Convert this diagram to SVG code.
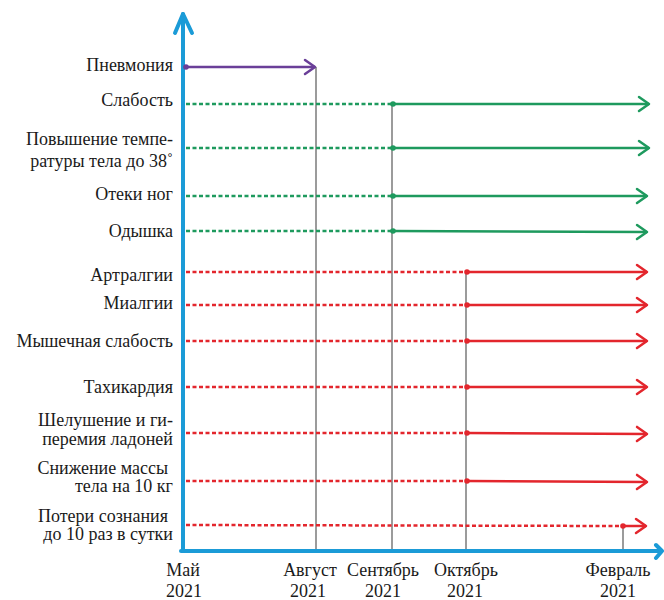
<svg xmlns="http://www.w3.org/2000/svg" width="664" height="600" viewBox="0 0 664 600">
<style>
text{font-family:'Liberation Serif','DejaVu Serif',serif;font-size:18px;fill:#1a1a1a}
.lbl{text-anchor:end}
.mon{text-anchor:middle}
.axis{stroke:#1b9bd7;stroke-width:4;fill:none;stroke-linecap:round;stroke-linejoin:round}
.vline{stroke:#7a7a7a;stroke-width:1.5}
.dg{stroke:#1e9a5e;stroke-width:2.5;stroke-dasharray:4 2.5;fill:none}
.dr{stroke:#e3262d;stroke-width:2.5;stroke-dasharray:4 2.5;fill:none}
.sg{stroke:#1e9a5e;stroke-width:2.5;fill:none}
.sr{stroke:#e3262d;stroke-width:2.5;fill:none}
.sp{stroke:#6a3f98;stroke-width:2.5;fill:none}
</style>
<defs>
<marker id="ag" markerUnits="userSpaceOnUse" markerWidth="16" markerHeight="18" refX="11" refY="8" orient="auto" overflow="visible"><path d="M1,1 L11,8 L1,15" fill="none" stroke="#1e9a5e" stroke-width="2.5" stroke-linecap="round" stroke-linejoin="round"/></marker>
<marker id="ar" markerUnits="userSpaceOnUse" markerWidth="16" markerHeight="18" refX="11" refY="8" orient="auto" overflow="visible"><path d="M1,1 L11,8 L1,15" fill="none" stroke="#e3262d" stroke-width="2.5" stroke-linecap="round" stroke-linejoin="round"/></marker>
<marker id="ap" markerUnits="userSpaceOnUse" markerWidth="16" markerHeight="18" refX="11" refY="8" orient="auto" overflow="visible"><path d="M1,1 L11,8 L1,15" fill="none" stroke="#6a3f98" stroke-width="2.5" stroke-linecap="round" stroke-linejoin="round"/></marker>
</defs>

<g id="axes">
<line class="vline" x1="316" y1="67" x2="316" y2="551"/>
<line class="vline" x1="392" y1="104" x2="392" y2="551"/>
<line class="vline" x1="466" y1="272" x2="466" y2="551"/>
<line class="vline" x1="623" y1="526" x2="623" y2="551"/>
<path class="axis" d="M183,551 L183,14"/>
<path class="axis" d="M175,33 L183,14 L192,33"/>
<path class="axis" d="M181,551 L661,551"/>
<path class="axis" d="M656,545 L662,551 L656,558"/>
</g>

<g id="connectors">
<line class="sp" x1="186" y1="67" x2="315" y2="67" marker-end="url(#ap)"/>
<circle cx="186" cy="67" r="2.8" fill="#6a3f98"/>

<line class="dg" x1="186" y1="104" x2="392" y2="104"/>
<line class="sg" x1="392" y1="104" x2="649" y2="104" marker-end="url(#ag)"/>
<circle cx="393" cy="104" r="2.8" fill="#1e9a5e"/>
<line class="dg" x1="186" y1="148" x2="392" y2="148"/>
<line class="sg" x1="392" y1="148" x2="649" y2="148" marker-end="url(#ag)"/>
<circle cx="393" cy="148" r="2.8" fill="#1e9a5e"/>
<line class="dg" x1="186" y1="196" x2="392" y2="196"/>
<line class="sg" x1="392" y1="196" x2="647" y2="196" marker-end="url(#ag)"/>
<circle cx="393" cy="196" r="2.8" fill="#1e9a5e"/>
<line class="dg" x1="186" y1="231" x2="392" y2="231"/>
<line class="sg" x1="392" y1="231" x2="647" y2="232" marker-end="url(#ag)"/>
<circle cx="393" cy="231" r="2.8" fill="#1e9a5e"/>

<line class="dr" x1="186" y1="272" x2="467" y2="272"/>
<line class="sr" x1="467" y1="272" x2="647" y2="272" marker-end="url(#ar)"/>
<circle cx="467" cy="272" r="2.8" fill="#e3262d"/>
<line class="dr" x1="186" y1="305" x2="467" y2="305"/>
<line class="sr" x1="467" y1="305" x2="647" y2="305" marker-end="url(#ar)"/>
<circle cx="467" cy="305" r="2.8" fill="#e3262d"/>
<line class="dr" x1="186" y1="341" x2="467" y2="341"/>
<line class="sr" x1="467" y1="341" x2="647" y2="341" marker-end="url(#ar)"/>
<circle cx="467" cy="341" r="2.8" fill="#e3262d"/>
<line class="dr" x1="186" y1="387" x2="467" y2="387"/>
<line class="sr" x1="467" y1="387" x2="647" y2="387" marker-end="url(#ar)"/>
<circle cx="467" cy="387" r="2.8" fill="#e3262d"/>
<line class="dr" x1="186" y1="433" x2="467" y2="433"/>
<line class="sr" x1="467" y1="433" x2="647" y2="434" marker-end="url(#ar)"/>
<circle cx="467" cy="433" r="2.8" fill="#e3262d"/>
<line class="dr" x1="186" y1="481" x2="467" y2="481"/>
<line class="sr" x1="467" y1="481" x2="647" y2="482" marker-end="url(#ar)"/>
<circle cx="467" cy="481" r="2.8" fill="#e3262d"/>
<line class="dr" x1="186" y1="525" x2="623" y2="526"/>
<line class="sr" x1="623" y1="526" x2="646" y2="526" marker-end="url(#ar)"/>
<circle cx="623" cy="526" r="2.8" fill="#e3262d"/>
</g>

<g id="n-pneumonia"><text class="lbl" x="173" y="71">Пневмония</text></g>
<g id="n-weakness"><text class="lbl" x="173" y="106">Слабость</text></g>
<g id="n-fever"><text class="lbl" x="173" y="145">Повышение темпе-</text><text class="lbl" x="173" y="167">ратуры тела до 38˚</text></g>
<g id="n-edema"><text class="lbl" x="173" y="200">Отеки ног</text></g>
<g id="n-dyspnea"><text class="lbl" x="173" y="237">Одышка</text></g>
<g id="n-arthralgia"><text class="lbl" x="173" y="281">Артралгии</text></g>
<g id="n-myalgia"><text class="lbl" x="173" y="309">Миалгии</text></g>
<g id="n-muscle"><text class="lbl" x="173" y="347">Мышечная слабость</text></g>
<g id="n-tachy"><text class="lbl" x="173" y="393">Тахикардия</text></g>
<g id="n-peeling"><text class="lbl" x="173" y="426">Шелушение и ги-</text><text class="lbl" x="173" y="445">перемия ладоней</text></g>
<g id="n-weight"><text class="lbl" x="168" y="474">Снижение массы</text><text class="lbl" x="173" y="492">тела на 10 кг</text></g>
<g id="n-syncope"><text class="lbl" x="168" y="522">Потери сознания</text><text class="lbl" x="173" y="540">до 10 раз в сутки</text></g>

<g id="months">
<text class="mon" x="183" y="576">Май</text><text class="mon" x="184" y="597">2021</text>
<text class="mon" x="310" y="576">Август</text><text class="mon" x="308" y="597">2021</text>
<text class="mon" x="383" y="576">Сентябрь</text><text class="mon" x="383" y="597">2021</text>
<text class="mon" x="466" y="576">Октябрь</text><text class="mon" x="465" y="597">2021</text>
<text class="mon" x="618" y="576">Февраль</text><text class="mon" x="618" y="597">2021</text>
</g>
</svg>
